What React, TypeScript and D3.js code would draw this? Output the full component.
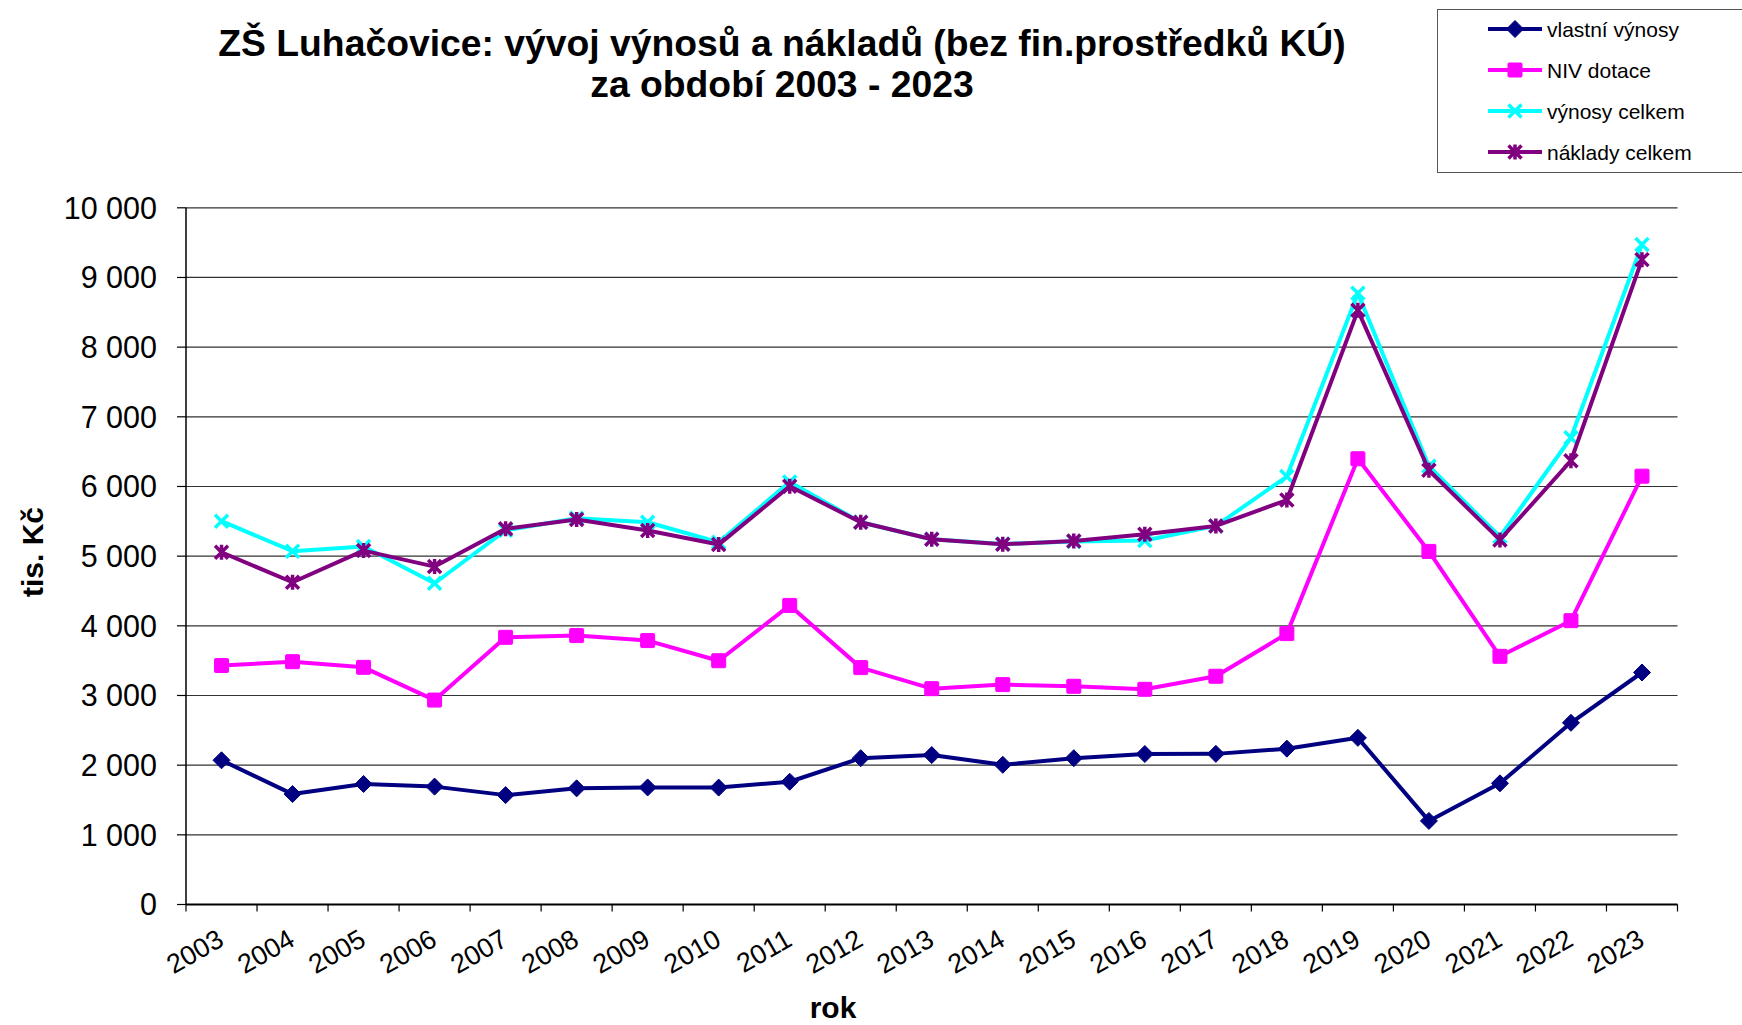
import React from "react";
import * as d3 from "d3";

const years = ["2003","2004","2005","2006","2007","2008","2009","2010","2011","2012","2013","2014","2015","2016","2017","2018","2019","2020","2021","2022","2023"];
const vlastniVynosy = [2070,1585,1730,1692,1570,1667,1680,1678,1762,2100,2145,2005,2100,2160,2162,2237,2392,1200,1739,2608,3330];
const nivDotace = [3430,3485,3404,2934,3835,3860,3788,3499,4293,3400,3098,3156,3132,3089,3276,3888,6398,5068,3562,4074,6148];
const vynosyCelkem = [5502,5071,5138,4611,5370,5545,5487,5200,6065,5487,5242,5175,5209,5225,5434,6142,8773,6290,5278,6699,9472];
const nakladyCelkem = [5056,4625,5080,4850,5392,5526,5368,5166,6003,5487,5242,5170,5218,5314,5434,5805,8528,6233,5233,6369,9256];
const yTicks = [0,1000,2000,3000,4000,5000,6000,7000,8000,9000,10000];
const seriesNames = ["vlastní výnosy","NIV dotace","výnosy celkem","náklady celkem"];
const seriesColors = ["#000080","#FF00FF","#00FFFF","#800080"];
const seriesMarkers = ["diamond","square","x","star"];
const seriesData = [vlastniVynosy, nivDotace, vynosyCelkem, nakladyCelkem];

const W = 1742, H = 1025;
const FONT = "'Liberation Sans', Arial, Helvetica, sans-serif";

function Marker({ type, x, y, color }: { type: string; x: number; y: number; color: string }) {
  if (type === "diamond") {
    const r = 8.5;
    return <path d={`M${x},${y - r}L${x + r},${y}L${x},${y + r}L${x - r},${y}Z`} fill={color} stroke={color} strokeWidth={1} strokeLinejoin="round" />;
  }
  if (type === "square") {
    const s = 14;
    return <rect x={x - s / 2} y={y - s / 2} width={s} height={s} fill={color} stroke={color} strokeWidth={1} rx={1} />;
  }
  if (type === "x") {
    const r = 6.5;
    return <path d={`M${x - r},${y - r}L${x + r},${y + r}M${x - r},${y + r}L${x + r},${y - r}`} stroke={color} strokeWidth={3.5} fill="none" />;
  }
  const r = 6.5;
  return <path d={`M${x - r},${y - r}L${x + r},${y + r}M${x - r},${y + r}L${x + r},${y - r}M${x},${y - r - 1}L${x},${y + r + 1}`} stroke={color} strokeWidth={3.5} fill="none" />;
}

export default function App() {
  const left = 186, right = 1677.5, top = 207.8, bottom = 904.5;
  const x = d3.scaleBand<string>().domain(years).range([left, right]);
  const bw = x.bandwidth();
  const cx = (d: string) => (x(d) as number) + bw / 2;
  const y = d3.scaleLinear().domain([0, 10000]).range([bottom, top]);
  const fmt = (v: number) => d3.format(",")(v).replace(/,/g, " ");
  const line = d3.line<number>().x((_, i) => cx(years[i])).y((v) => y(v));
  const tickXs = years.map((d) => x(d) as number).concat([right]);

  const legendRows = [29, 70, 111, 152];

  return (
    <svg width={W} height={H} style={{ position: "absolute", left: 0, top: 0, background: "#fff" }} fontFamily={FONT}>
      <rect x={0} y={0} width={W} height={H} fill="#fff" />
      {/* title */}
      <text x={782} y={56} textAnchor="middle" fontSize={37.3} fontWeight="bold" fill="#000">ZŠ Luhačovice: vývoj výnosů a nákladů (bez fin.prostředků KÚ)</text>
      <text x={782} y={97} textAnchor="middle" fontSize={37.3} fontWeight="bold" fill="#000">za období 2003 - 2023</text>

      {/* gridlines */}
      {yTicks.map((t) => (
        <line key={"g" + t} x1={left} x2={right} y1={y(t)} y2={y(t)} stroke="#333" strokeWidth={1.2} />
      ))}
      {/* y ticks & labels */}
      {yTicks.map((t) => (
        <g key={"yt" + t}>
          <line x1={left - 9} x2={left} y1={y(t)} y2={y(t)} stroke="#000" strokeWidth={1.2} />
          <text x={157} y={y(t)} dy="0.36em" textAnchor="end" fontSize={30.5} fill="#000">{fmt(t)}</text>
        </g>
      ))}
      {/* axes */}
      <line x1={left} x2={left} y1={top} y2={bottom} stroke="#000" strokeWidth={1.5} />
      <line x1={left} x2={right} y1={bottom} y2={bottom} stroke="#000" strokeWidth={2} />
      {tickXs.map((tx, i) => (
        <line key={"xt" + i} x1={tx} x2={tx} y1={bottom} y2={bottom + 7} stroke="#000" strokeWidth={1.2} />
      ))}
      {years.map((d) => (
        <text key={"xl" + d} transform={`translate(${cx(d) + 4},${bottom + 40}) rotate(-30)`} textAnchor="end" fontSize={27} fill="#000">{d}</text>
      ))}
      {/* axis titles */}
      <text x={833} y={1018} textAnchor="middle" fontSize={30} fontWeight="bold" fill="#000">rok</text>
      <text transform={`translate(43,552) rotate(-90)`} textAnchor="middle" fontSize={30} fontWeight="bold" fill="#000">tis. Kč</text>

      {/* series */}
      {seriesData.map((data, si) => (
        <g key={"s" + si}>
          <path d={line(data) as string} fill="none" stroke={seriesColors[si]} strokeWidth={4} strokeLinejoin="round" />
          {data.map((v, i) => (
            <Marker key={i} type={seriesMarkers[si]} x={cx(years[i])} y={y(v)} color={seriesColors[si]} />
          ))}
        </g>
      ))}

      {/* legend */}
      <rect x={1437.5} y={9.5} width={320} height={163} fill="#fff" stroke="#555" strokeWidth={1} />
      {seriesNames.map((n, i) => (
        <g key={"lg" + i}>
          <line x1={1488} x2={1542} y1={legendRows[i]} y2={legendRows[i]} stroke={seriesColors[i]} strokeWidth={4} />
          <Marker type={seriesMarkers[i]} x={1515} y={legendRows[i]} color={seriesColors[i]} />
          <text x={1547} y={legendRows[i]} dy="0.36em" fontSize={21} fill="#000">{n}</text>
        </g>
      ))}
    </svg>
  );
}
